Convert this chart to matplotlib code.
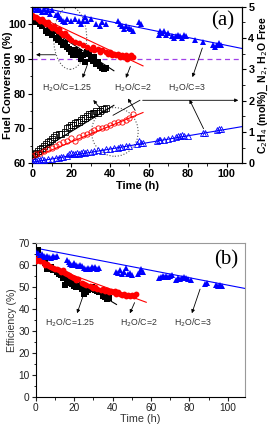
import matplotlib
matplotlib.use('Agg')
import matplotlib.pyplot as plt
from matplotlib.patches import Ellipse
from matplotlib.ticker import MultipleLocator

plt.rcParams['font.family'] = ['Liberation Sans', 'DejaVu Sans']

# ---- panel (a): fuel conversion (%) ----
conv_t_125 = [0, 1, 2, 3, 4, 5, 6, 7, 8, 9, 10, 11, 12, 13, 14, 15, 16, 17, 18, 19,
              20, 21, 22, 23, 24, 25, 26, 27, 28, 29, 30, 31, 32, 33, 34, 35, 36, 37, 38]
conv_125 = [102, 101, 100.5, 101, 100, 99.5, 100, 98, 97.5, 99, 97, 98, 96, 95.5, 96.5, 95, 94,
            94.5, 93.5, 93, 92, 91, 92.5, 91, 92, 90, 91, 89, 92, 91.5, 90, 89.5, 90.5, 88.5,
            89, 88, 87.5, 87, 87.5]
conv_t_2 = [0, 1, 2, 3, 4, 5, 6, 7, 8, 9, 10, 11, 12, 13, 14, 15, 16, 17, 18, 19, 20, 22, 24,
            26, 28, 30, 31, 32, 34, 35, 36, 38, 39, 40, 41, 42, 43, 44, 45, 46, 47, 48, 49, 50,
            51, 52]
conv_2 = [102.5, 102, 102, 101.5, 101, 101.5, 100.5, 100, 100.5, 99.5, 99, 99.5, 98.5, 98, 98.5,
          97.5, 97, 97.5, 96.5, 96, 95.5, 95, 94.5, 94, 93.5, 93, 93.5, 92.5, 93, 92, 92.5, 92,
          91.5, 92, 91, 91.5, 91, 91.5, 90.5, 91, 90.5, 91, 90, 90.5, 91, 90.5]
conv_t_3 = [0, 1, 2, 3, 4, 5, 6, 7, 8, 9, 10, 12, 13, 14, 15, 16, 17, 18, 20, 22, 24, 25, 26,
            27, 28, 30, 33, 35, 36, 38, 44, 45, 46, 47, 48, 50, 51, 52, 55, 56, 65, 66, 67, 68,
            69, 70, 72, 73, 74, 75, 76, 77, 78, 79, 84, 88, 93, 94, 95, 96, 97]
conv_3 = [104.5, 105, 104, 104.5, 104, 103.5, 104.5, 103.5, 104, 103, 104, 102.5, 103, 102, 101.5,
          101, 100.5, 101.5, 101, 101.5, 101, 100, 101, 102, 101, 101.5, 100, 99.5, 100.5, 100,
          101, 100, 99.5, 98.5, 99.5, 99, 98.5, 98, 100.5, 100, 97, 98, 97.5, 98, 97, 97.5, 96.5,
          96, 96.5, 97, 96.5, 96, 97, 96.5, 95.5, 95, 94, 93.5, 94, 94.5, 94]
conv_fit_t = [0, 42, 0, 57, 0, 108]
conv_fit = [101.8, 86.6, 103, 88, 105.3, 93]

# ---- panel (a): C2H4 (mol%), N2, H2O free ----
c2h4_t_125 = [0, 1, 2, 3, 4, 5, 6, 7, 8, 9, 10, 11, 12, 14, 15, 17, 18, 19, 20, 21, 22, 23, 24,
              25, 26, 27, 28, 29, 30, 31, 32, 33, 34, 35, 36, 37, 38]
c2h4_125 = [0.22, 0.28, 0.33, 0.39, 0.44, 0.5, 0.56, 0.61, 0.67, 0.72, 0.78, 0.83, 0.89, 0.94,
            0.94, 1.0, 1.11, 1.17, 1.22, 1.22, 1.28, 1.33, 1.33, 1.39, 1.44, 1.44, 1.5, 1.56,
            1.56, 1.61, 1.61, 1.67, 1.61, 1.67, 1.72, 1.72, 1.78]
c2h4_t_2 = [0, 2, 4, 6, 8, 10, 12, 14, 16, 18, 20, 22, 24, 26, 28, 30, 32, 34, 36, 38, 40, 42,
            44, 46, 48, 50, 52]
c2h4_2 = [0.22, 0.28, 0.33, 0.39, 0.44, 0.5, 0.56, 0.61, 0.67, 0.72, 0.8, 0.72, 0.83, 0.89,
          0.94, 1.0, 1.06, 1.11, 1.11, 1.17, 1.22, 1.28, 1.33, 1.33, 1.39, 1.44, 1.58]
c2h4_t_3 = [0, 1, 2, 3, 4, 5, 6, 8, 10, 12, 14, 15, 16, 18, 19, 20, 21, 22, 23, 24, 25, 26, 27,
            28, 30, 32, 34, 36, 38, 40, 42, 44, 45, 46, 48, 50, 54, 55, 56, 57, 64, 65, 66, 68,
            70, 72, 74, 75, 76, 77, 78, 80, 88, 89, 95, 96, 97]
c2h4_3 = [0.05, 0.08, 0.06, 0.1, 0.09, 0.12, 0.1, 0.14, 0.13, 0.18, 0.17, 0.2, 0.19, 0.22, 0.3,
          0.33, 0.31, 0.28, 0.33, 0.3, 0.32, 0.35, 0.33, 0.36, 0.37, 0.38, 0.41, 0.4, 0.44,
          0.45, 0.5, 0.49, 0.53, 0.51, 0.55, 0.56, 0.62, 0.7, 0.66, 0.64, 0.72, 0.74, 0.73, 0.75,
          0.77, 0.8, 0.84, 0.87, 0.86, 0.89, 0.88, 0.86, 0.98, 0.97, 1.06, 1.08, 1.1]
c2h4_fit_t = [0, 42, 0, 57, 0, 108]
c2h4_fit = [0.25, 1.85, 0.17, 1.62, 0.03, 1.17]

# ---- panel (b): efficiency (%) ----
eff_t_125 = [0, 1, 2, 3, 4, 5, 6, 7, 8, 9, 10, 11, 12, 13, 14, 15, 16, 17, 18, 19, 20, 21, 22,
             23, 24, 25, 26, 27, 28, 29, 30, 31, 32, 33, 34, 35, 36, 37, 38]
eff_125 = [65, 67, 63, 62, 62.5, 61, 58, 58.5, 59, 57.5, 57.5, 57, 56, 55.5, 54, 51, 53, 52.5, 52,
           51.5, 50.5, 50, 50.5, 50, 49, 47, 47.5, 48.5, 49.5, 50, 49, 48.5, 48, 47.5, 48, 46,
           45.5, 44.5, 45]
eff_t_2 = [0, 1, 2, 3, 4, 5, 6, 7, 8, 9, 10, 11, 12, 13, 14, 15, 16, 17, 18, 19, 20, 21, 22, 24,
           25, 26, 28, 29, 30, 31, 32, 34, 35, 36, 37, 38, 39, 40, 41, 42, 43, 44, 45, 46, 47,
           48, 49, 50, 51, 52]
eff_2 = [62, 63, 62, 62.5, 61, 60, 60.5, 59.5, 59, 58.5, 58, 58, 57.5, 57, 57.5, 56.5, 56, 55.5,
         55, 54.5, 54, 53, 53.5, 52, 51.5, 51, 50.5, 50, 49.5, 50, 49, 48.5, 49, 48, 48.5, 47.5,
         48, 47.5, 48, 47, 47.5, 47, 46.5, 47, 46, 46.5, 46, 46.5, 46, 47]
eff_t_3 = [0, 1, 2, 3, 4, 5, 6, 7, 8, 9, 10, 11, 16, 17, 18, 19, 20, 21, 22, 23, 24, 25, 26, 27,
           28, 29, 30, 31, 32, 33, 42, 43, 44, 45, 46, 47, 48, 49, 50, 53, 54, 55, 56, 64, 65,
           66, 67, 68, 69, 70, 71, 73, 74, 75, 76, 77, 78, 79, 81, 88, 89, 94, 95, 96, 97]
eff_3 = [66, 65.5, 64.5, 65, 64, 63.5, 64, 63.5, 63, 64, 63.5, 64, 62.5, 61.5, 60.5, 60, 61, 60,
         59.5, 60, 59.5, 58.5, 58, 58.5, 58, 59, 58.5, 59, 58, 58.5, 57, 56.5, 57.5, 56, 57,
         58.5, 56, 56.5, 55.5, 56, 57, 58, 57, 54, 54.5, 55, 54.5, 55, 54.5, 55, 55.5, 53, 54,
         53.5, 54, 54.5, 54, 53.5, 53, 51.5, 52, 51, 50.5, 51, 50.5]
eff_fit_t = [0, 42, 0, 57.5, 0, 109]
eff_fit = [64, 42, 61.6, 43, 67.7, 49.3]

ratio_labels = ['H$_2$O/C=1.25', 'H$_2$O/C=2', 'H$_2$O/C=3']
colors = ['black', 'red', 'blue']
ms_fill = 4.2
ms_open = 3.8

fig = plt.figure(figsize=(2.76, 4.25), dpi=100)

# ================= (a) =================
ax = fig.add_axes([0.117, 0.616, 0.76, 0.368])
ax2 = ax.twinx()

series_conv = [(conv_t_125, conv_125, 's'), (conv_t_2, conv_2, 'o'), (conv_t_3, conv_3, '^')]
for i, (t, v, m) in enumerate(series_conv):
    ax.plot(t, v, m, color=colors[i], ms=ms_fill, mew=0, zorder=3)
    ax.plot(conv_fit_t[2 * i:2 * i + 2], conv_fit[2 * i:2 * i + 2], '-', color=colors[i], lw=0.8)

series_c2h4 = [(c2h4_t_125, c2h4_125, 's'), (c2h4_t_2, c2h4_2, 'o'), (c2h4_t_3, c2h4_3, '^')]
for i, (t, v, m) in enumerate(series_c2h4):
    ax2.plot(t, v, m, color=colors[i], mfc='none', ms=ms_open, mew=0.6, zorder=3)
    ax2.plot(c2h4_fit_t[2 * i:2 * i + 2], c2h4_fit[2 * i:2 * i + 2], '-', color=colors[i], lw=0.8)

ax.axhline(90, color='#a040e8', ls='--', lw=0.9, dashes=(4, 3), zorder=1)

ax.add_patch(Ellipse((19.5, 96), 17, 18, fill=False, ls=':', color='#555555', lw=0.8))
ax.add_patch(Ellipse((42.5, 69), 24, 14, fill=False, ls=':', color='#555555', lw=0.8))

ax.set_xlim(0, 108)
ax.set_ylim(60, 105)
ax2.set_ylim(0, 5)
ax.set_xticks([0, 20, 40, 60, 80, 100])
ax.set_yticks([60, 70, 80, 90, 100])
ax.xaxis.set_minor_locator(MultipleLocator(10))
ax.yaxis.set_minor_locator(MultipleLocator(5))
ax2.set_yticks([0, 1, 2, 3, 4, 5])
ax2.yaxis.set_minor_locator(MultipleLocator(0.5))
for a in (ax, ax2):
    a.tick_params(which='major', direction='out', length=3, width=0.8, labelsize=7.8, pad=1.5)
    a.tick_params(which='minor', direction='out', length=1.8, width=0.6)
    for lab in a.get_xticklabels() + a.get_yticklabels():
        lab.set_fontweight('bold')
ax.set_xlabel('Time (h)', fontsize=8, fontweight='bold', labelpad=1)
ax.set_ylabel('Fuel Conversion (%)', fontsize=8, fontweight='bold', va='center')
ax.yaxis.set_label_coords(-0.118, 0.5)
ax2.set_ylabel('C$_2$H$_4$ (mol%)_ N$_2$, H$_2$O Free', fontsize=7.6, fontweight='bold', labelpad=2)
ax.text(98, 101, '(a)', fontsize=15, family='Liberation Serif', ha='center', va='center')

lab_x = [17.7, 52, 79.4]
for i in range(3):
    ax.text(lab_x[i], 81.8, ratio_labels[i], fontsize=6.3, color='#333333', ha='center', va='center')

arrow_kw = dict(arrowstyle='-|>', color='black', lw=0.6, mutation_scale=5)
arrows_a = [((28.8, 89), (25.4, 83.8)), ((38, 73.7), (30.5, 78.8)),
            ((51, 88.6), (47.7, 83.8)), ((53.7, 74.5), (48.5, 79.3)),
            ((88, 93.9), (82, 84)), ((88.8, 69.2), (80.3, 79)),
            ((13.4, 91.2), (0.5, 91.2))]
for start, end in arrows_a:
    ax.annotate('', xy=end, xytext=start, arrowprops=arrow_kw)
ax.plot([41.6, 55.4], [73.8, 78.1], color='black', lw=0.6)
ax.annotate('', xy=(107.5, 78.1), xytext=(55.4, 78.1), arrowprops=arrow_kw)

# ================= (b) =================
bx = fig.add_axes([0.13, 0.067, 0.758, 0.361])
series_eff = [(eff_t_125, eff_125, 's'), (eff_t_2, eff_2, 'o'), (eff_t_3, eff_3, '^')]
for i, (t, v, m) in enumerate(series_eff):
    bx.plot(t, v, m, color=colors[i], ms=ms_fill, mew=0, zorder=3)
    bx.plot(eff_fit_t[2 * i:2 * i + 2], eff_fit[2 * i:2 * i + 2], '-', color=colors[i], lw=0.8)

bx.set_xlim(0, 109)
bx.set_ylim(0, 70)
bx.set_xticks([0, 20, 40, 60, 80, 100])
bx.set_yticks(range(0, 71, 10))
bx.xaxis.set_minor_locator(MultipleLocator(10))
bx.yaxis.set_minor_locator(MultipleLocator(5))
bx.tick_params(which='major', direction='out', length=3, width=0.8, labelsize=7.3, pad=1.5,
               colors='#222222')
bx.tick_params(which='minor', direction='out', length=1.8, width=0.6)
for s in ('top', 'right'):
    bx.spines[s].set_color('#999999')
bx.set_xlabel('Time (h)', fontsize=7.8, color='#333333', labelpad=1)
bx.set_ylabel('Efficiency (%)', fontsize=7.5, color='#333333', labelpad=1)
bx.text(99, 62.4, '(b)', fontsize=15, family='Liberation Serif', ha='center', va='center')

lab_bx = [17.8, 53.7, 81.6]
for i in range(3):
    bx.text(lab_bx[i], 33.5, ratio_labels[i], fontsize=6.3, color='#333333', ha='center', va='center')
arrows_b = [((25.7, 48.7), (21, 36.8)), ((52, 44), (48.4, 36.8)), ((86, 50.2), (80.8, 36.8))]
for start, end in arrows_b:
    bx.annotate('', xy=end, xytext=start, arrowprops=arrow_kw)

fig.savefig('out.png', dpi=100)
